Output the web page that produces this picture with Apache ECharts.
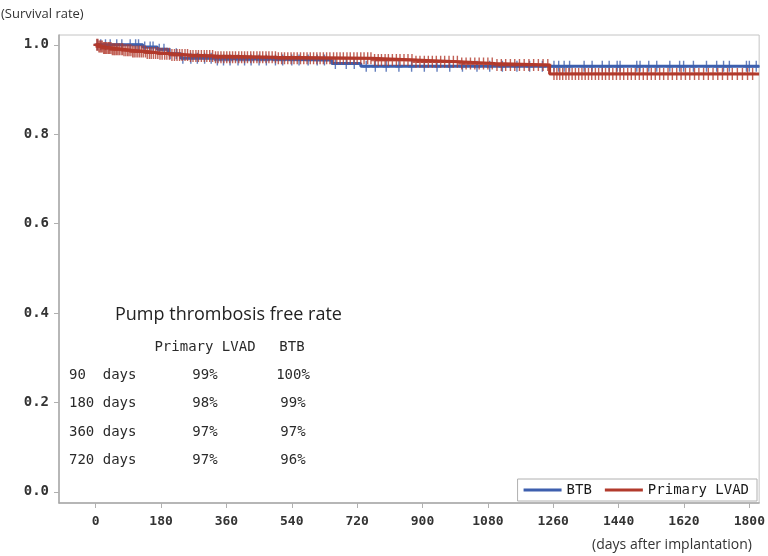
<!DOCTYPE html>
<html>
<head>
<meta charset="utf-8">
<script src="https://cdn.jsdelivr.net/npm/echarts@6/dist/echarts.min.js"></script>
<style>
  html, body { margin: 0; padding: 0; background: #ffffff; }
  #chart { width: 768px; height: 556px; }
</style>
</head>
<body>
<div id="chart"></div>
<script>
// Axis ticks
const xTicks = [0, 180, 360, 540, 720, 900, 1080, 1260, 1440, 1620, 1800];
const yTicks = [0, 0.2, 0.4, 0.6, 0.8, 1.0];

// Kaplan-Meier steps: [day, survival] (value holds until the next day)
const btbSteps = [
  [0, 1.0], [130, 0.995], [170, 0.99], [200, 0.98], [235, 0.97],
  [330, 0.966], [650, 0.958], [730, 0.952], [1827, 0.952]
];
const lvadSteps = [
  [0, 1.0], [8, 0.996], [20, 0.993], [45, 0.99], [75, 0.988], [100, 0.985],
  [140, 0.982], [175, 0.98], [210, 0.977], [260, 0.975], [330, 0.972],
  [500, 0.97], [760, 0.966], [880, 0.962], [1000, 0.958], [1100, 0.955],
  [1250, 0.935], [1827, 0.935]
];

// Censored observations (days)
const btbCensor = [
  5, 14, 27, 40, 58, 72, 95, 110, 118, 135, 150, 158, 175, 188, 205, 222, 240,
  262, 280, 300, 318, 335, 352, 370, 392, 410, 428, 450, 470, 495, 515, 540,
  560, 585, 610, 630, 660, 690, 712, 745, 770, 800, 835, 870, 905, 940, 975,
  1010, 1050, 1085, 1120, 1160, 1195, 1230, 1262, 1275, 1290, 1305, 1345, 1367,
  1395, 1414, 1436, 1444, 1490, 1499, 1523, 1545, 1581, 1608, 1619, 1646, 1682,
  1710, 1729, 1745, 1792, 1800, 1819
];
const lvadCensor = [
  3, 6, 9, 12, 15, 18, 22, 25, 28, 31, 35, 38, 42, 46, 50, 53, 57, 61, 65, 70,
  74, 78, 83, 88, 92, 97, 102, 106, 111, 116, 121, 126, 131, 137, 142, 148, 153,
  159, 165, 171, 177, 183, 190, 196, 203, 210, 217, 224, 231, 238, 246, 253, 261,
  268, 276, 283, 291, 299, 306, 314, 322, 330, 337, 345, 353, 361, 369, 377, 385,
  394, 402, 410, 418, 427, 435, 444, 452, 460, 469, 477, 486, 495, 503, 512, 520,
  529, 538, 546, 555, 564, 573, 582, 591, 600, 609, 618, 627, 636, 645, 655, 664,
  673, 682, 692, 701, 711, 720, 730, 739, 749, 758, 768, 778, 787, 797, 806, 817,
  828, 838, 849, 860, 871, 882, 893, 905, 916, 927, 938, 950, 961, 973, 985, 996,
  1008, 1020, 1032, 1044, 1056, 1068, 1080, 1092, 1105, 1117, 1129, 1142, 1154,
  1167, 1180, 1193, 1206, 1219, 1232, 1245, 1262, 1270, 1278, 1286, 1295, 1303,
  1312, 1321, 1330, 1339, 1348, 1357, 1366, 1376, 1385, 1395, 1404, 1414, 1424,
  1434, 1444, 1454, 1465, 1475, 1486, 1497, 1508, 1519, 1530, 1541, 1553, 1564,
  1576, 1588, 1600, 1612, 1624, 1636, 1649, 1661, 1674, 1687, 1700, 1713, 1726,
  1740, 1753, 1767, 1781, 1795, 1809
];

// Inset table
const tableTitle = 'Pump thrombosis free rate';
const tableHead = ['Primary LVAD', 'BTB'];
const tableRows = ['90  days', '180 days', '360 days', '720 days'];
const lvadRates = ['99%', '98%', '97%', '97%'];
const btbRates = ['100%', '99%', '97%', '96%'];

const BLUE = '#3d5fae';
const RED = '#b23a2c';
const MONO = '"DejaVu Sans Mono", monospace';
const SANS = '"Open Sans", "Noto Sans", sans-serif';
// "+" censor mark
const PLUS = 'path://M4,0 L6,0 L6,4 L10,4 L10,6 L6,6 L6,10 L4,10 L4,6 L0,6 L0,4 L4,4 Z';

function stepAt(steps, t) {
  let v = steps[0][1];
  for (const [d, s] of steps) { if (d <= t) v = s; else break; }
  return v;
}

const chart = echarts.init(document.getElementById('chart'), null, { renderer: 'canvas' });

const graphics = [
  { type: 'text', style: { text: '(Survival rate)', x: 1, y: 14, font: '13px ' + SANS, fill: '#333', textVerticalAlign: 'middle' } },
  { type: 'text', style: { text: '(days after implantation)', x: 752, y: 545, font: '14px ' + SANS, fill: '#333', textAlign: 'right', textVerticalAlign: 'middle' } },
  { type: 'text', style: { text: tableTitle, x: 115, y: 315, font: '18px ' + SANS, fill: '#222', textVerticalAlign: 'middle' } },
  { type: 'text', style: { text: tableHead[0], x: 205, y: 347, font: '14px ' + MONO, fill: '#2a2a2a', textAlign: 'center', textVerticalAlign: 'middle' } },
  { type: 'text', style: { text: tableHead[1], x: 292, y: 347, font: '14px ' + MONO, fill: '#2a2a2a', textAlign: 'center', textVerticalAlign: 'middle' } }
];
tableRows.forEach((row, i) => {
  const y = 375 + i * 28.6;
  graphics.push({ type: 'text', style: { text: row, x: 69, y, font: '14px ' + MONO, fill: '#2a2a2a', textVerticalAlign: 'middle' } });
  graphics.push({ type: 'text', style: { text: lvadRates[i], x: 205, y, font: '14px ' + MONO, fill: '#2a2a2a', textAlign: 'center', textVerticalAlign: 'middle' } });
  graphics.push({ type: 'text', style: { text: btbRates[i], x: 293, y, font: '14px ' + MONO, fill: '#2a2a2a', textAlign: 'center', textVerticalAlign: 'middle' } });
});

chart.setOption({
  animation: false,
  backgroundColor: '#ffffff',
  grid: { left: 59, right: 5, top: 35, bottom: 53, show: true, borderColor: '#c4c4c4', borderWidth: 1, backgroundColor: '#ffffff' },
  xAxis: {
    type: 'value', min: -101, max: 1827,
    axisLine: { show: true, onZero: false, lineStyle: { color: '#a8a8a8', width: 1.5 } },
    axisTick: { show: true, customValues: xTicks, length: 5, lineStyle: { color: '#b0b0b0' } },
    axisLabel: { customValues: xTicks, color: '#333', fontFamily: MONO, fontSize: 13, fontWeight: 'bold', margin: 12,
      formatter: v => String(v) },
    splitLine: { show: false }
  },
  yAxis: {
    type: 'value', min: -0.025, max: 1.022,
    axisLine: { show: true, onZero: false, lineStyle: { color: '#a8a8a8', width: 1.5 } },
    axisTick: { show: true, customValues: yTicks, length: 5, lineStyle: { color: '#b0b0b0' } },
    axisLabel: { customValues: yTicks, color: '#333', fontFamily: MONO, fontSize: 14, fontWeight: 'bold', margin: 10,
      formatter: v => v.toFixed(1) },
    splitLine: { show: false }
  },
  legend: {
    data: ['BTB', 'Primary LVAD'],
    right: 11, bottom: 55,
    orient: 'horizontal',
    icon: 'rect', itemWidth: 38, itemHeight: 3, itemGap: 13,
    backgroundColor: '#ffffff', borderColor: '#b0b0b0', borderWidth: 1, borderRadius: 0,
    padding: [4, 8, 4, 6],
    textStyle: { fontFamily: MONO, fontSize: 14, color: '#1a1a1a' }
  },
  graphic: graphics,
  series: [
    {
      name: 'BTB', type: 'line', step: 'end', showSymbol: false, symbol: 'none',
      data: btbSteps, lineStyle: { color: BLUE, width: 3 }, itemStyle: { color: BLUE }, z: 3
    },
    {
      name: 'BTB censored', type: 'scatter', symbol: PLUS, symbolSize: [7, 11],
      data: btbCensor.map(t => [t, stepAt(btbSteps, t)]), itemStyle: { color: BLUE }, z: 3
    },
    {
      name: 'Primary LVAD', type: 'line', step: 'end', showSymbol: false, symbol: 'none',
      data: lvadSteps, lineStyle: { color: RED, width: 3 }, itemStyle: { color: RED }, z: 4
    },
    {
      name: 'Primary LVAD censored', type: 'scatter', symbol: PLUS, symbolSize: [7, 12],
      data: lvadCensor.map(t => [t, stepAt(lvadSteps, t)]), itemStyle: { color: RED }, z: 4
    }
  ]
});
</script>
</body>
</html>
